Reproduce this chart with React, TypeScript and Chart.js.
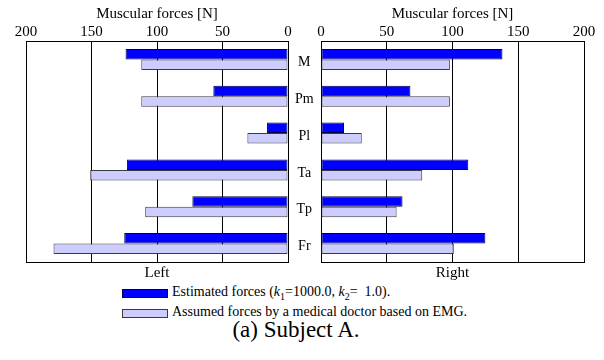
import React, { useEffect, useRef } from "react";
import { Chart, registerables } from "chart.js";

Chart.register(...registerables);

const categories = ["M", "Pm", "Pl", "Ta", "Tp", "Fr"];
const leftEstimated = [124, 57, 16, 123, 73, 125];
const leftAssumed = [112, 112, 31, 151, 109, 179];
const rightEstimated = [138, 68, 17.5, 112, 62, 125];
const rightAssumed = [98, 98, 31, 77, 57.5, 101];
const xTickStep = 50;
const xMin = 0;
const xMax = 200;

const FONT = '"Liberation Serif", "Tinos", "Times New Roman", Times, "DejaVu Serif", serif';
const EST_FILL = "#0000ff";
const EST_BORDER = "#00003a";
const ASM_FILL = "#ccccff";
const ASM_BORDER = "#3a3a3a";

function makeDatasets(est: number[], asm: number[]) {
  return [
    {
      label: "Estimated forces",
      data: est,
      backgroundColor: EST_FILL,
      borderColor: EST_BORDER,
      borderWidth: 1,
      borderSkipped: false,
      categoryPercentage: 0.57,
      barPercentage: 1.0,
    },
    {
      label: "Assumed forces",
      data: asm,
      backgroundColor: ASM_FILL,
      borderColor: ASM_BORDER,
      borderWidth: 1,
      borderSkipped: false,
      categoryPercentage: 0.57,
      barPercentage: 1.0,
    },
  ];
}

function makeOptions(side: "left" | "right") {
  const isLeft = side === "left";
  return {
    indexAxis: "y" as const,
    animation: false as const,
    responsive: true,
    maintainAspectRatio: false,
    layout: {
      padding: isLeft
        ? { left: 26, right: 0, top: 0, bottom: 0 }
        : { left: 21, right: 20, top: 0, bottom: 0 },
    },
    plugins: {
      legend: { display: false },
      tooltip: { enabled: false },
    },
    scales: {
      x: {
        type: "linear" as const,
        position: "top" as const,
        reverse: isLeft,
        min: xMin,
        max: xMax,
        ticks: {
          stepSize: xTickStep,
          padding: 0,
          color: "#000",
          font: { family: FONT, size: 15 },
          maxRotation: 0,
        },
        grid: { color: "#000", drawTicks: false, lineWidth: 1 },
        border: { display: true, color: "#000", width: 1 },
        title: {
          display: true,
          text: "Muscular forces [N]",
          color: "#000",
          font: { family: FONT, size: 15 },
          padding: { top: 5, bottom: 0 },
        },
        afterFit: (s: any) => {
          s.height = 41;
        },
      },
      x2: {
        type: "linear" as const,
        position: "bottom" as const,
        reverse: isLeft,
        min: xMin,
        max: xMax,
        ticks: { display: false },
        grid: { display: false, drawTicks: false },
        border: { display: true, color: "#000", width: 1 },
        title: {
          display: true,
          text: isLeft ? "Left" : "Right",
          color: "#000",
          font: { family: FONT, size: 15 },
          padding: { top: 0, bottom: 0 },
        },
        afterFit: (s: any) => {
          s.height = 20;
        },
      },
      y: isLeft
        ? {
            type: "category" as const,
            position: "right" as const,
            grid: { display: false, drawTicks: false },
            border: { display: true, color: "#000", width: 1 },
            ticks: {
              crossAlign: "center" as const,
              padding: 7,
              labelOffset: 3,
              color: "#000",
              font: { family: FONT, size: 14 },
            },
            afterFit: (s: any) => {
              s.width = 33;
            },
          }
        : {
            type: "category" as const,
            display: false,
          },
    },
  };
}

function Panel({ side, est, asm, style }: any) {
  const ref = useRef<HTMLCanvasElement | null>(null);
  useEffect(() => {
    if (!ref.current) return;
    const chart = new Chart(ref.current, {
      type: "bar",
      data: { labels: categories, datasets: makeDatasets(est, asm) as any },
      options: makeOptions(side) as any,
    });
    return () => chart.destroy();
  }, [side, est, asm]);
  return (
    <div style={style}>
      <canvas ref={ref} />
    </div>
  );
}

const swatch = (fill: string, border: string, top: number): React.CSSProperties => ({
  position: "absolute",
  left: 122,
  top,
  width: 44,
  height: 7,
  background: fill,
  border: `1px solid ${border}`,
});

const legendText: React.CSSProperties = {
  position: "absolute",
  left: 172,
  fontSize: 14,
  lineHeight: "16px",
  whiteSpace: "nowrap",
};

export default function App() {
  return (
    <div
      style={{
        position: "fixed",
        left: 0,
        top: 0,
        width: 604,
        height: 360,
        background: "#fff",
        fontFamily: FONT,
        color: "#000",
      }}
    >
      <Panel
        side="left"
        est={leftEstimated}
        asm={leftAssumed}
        style={{ position: "absolute", left: 0, top: 0, width: 321, height: 282 }}
      />
      <Panel
        side="right"
        est={rightEstimated}
        asm={rightAssumed}
        style={{ position: "absolute", left: 300, top: 0, width: 304, height: 282 }}
      />
      <div style={swatch(EST_FILL, EST_BORDER, 289)} />
      <div style={{ ...legendText, top: 284 }}>
        Estimated forces (<i>k</i>
        <sub style={{ fontSize: 10, lineHeight: 0 }}>1</sub>=1000.0, <i>k</i>
        <sub style={{ fontSize: 10, lineHeight: 0 }}>2</sub>= &nbsp;1.0).
      </div>
      <div style={swatch(ASM_FILL, ASM_BORDER, 309)} />
      <div style={{ ...legendText, top: 304 }}>
        Assumed forces by a medical doctor based on EMG.
      </div>
      <div
        style={{
          position: "absolute",
          left: 0,
          width: 592,
          top: 317,
          textAlign: "center",
          fontSize: 23,
          lineHeight: "26px",
          whiteSpace: "nowrap",
        }}
      >
        (a) Subject A.
      </div>
    </div>
  );
}
